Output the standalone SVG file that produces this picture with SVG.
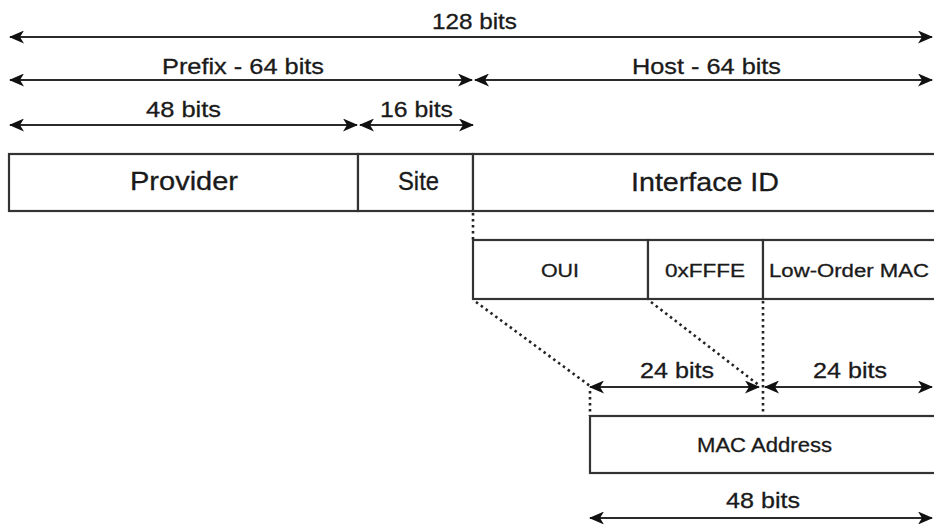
<svg xmlns="http://www.w3.org/2000/svg" width="934" height="524" viewBox="0 0 934 524">
<defs>
<style>
text{font-family:"Liberation Sans",Arial,sans-serif;fill:#1a1a1a;stroke:#1a1a1a;stroke-width:0.3;text-anchor:start}
.big{font-size:22px}
.lg{font-size:25px}
.sm{font-size:18px}
.md{font-size:20px}
.box{fill:#fff;stroke:#333;stroke-width:2.2}
.arr{stroke:#2a2a2a;stroke-width:2.2;fill:none;marker-start:url(#ah);marker-end:url(#ah)}
.dot{stroke:#222;stroke-width:2.6;stroke-dasharray:2.5 3.5;fill:none}
</style>
<marker id="ah" viewBox="0 0 15 13" refX="14" refY="6.5" markerWidth="15" markerHeight="13" markerUnits="userSpaceOnUse" orient="auto-start-reverse">
<path d="M0,0 L15,6.5 L0,13 L4,6.5 z" fill="#111"/>
</marker>
</defs>
<rect width="934" height="524" fill="#fff"/>
<g id="connectors">
<line class="arr" x1="10" y1="37" x2="932" y2="37"/>
<line class="arr" x1="10" y1="80" x2="472" y2="80"/>
<line class="arr" x1="475" y1="80" x2="932" y2="80"/>
<line class="arr" x1="10" y1="125" x2="357" y2="125"/>
<line class="arr" x1="360" y1="125" x2="473" y2="125"/>
<line class="dot" x1="473" y1="213" x2="473" y2="240"/>
<line class="dot" x1="476" y1="302" x2="590" y2="386"/>
<line class="dot" x1="651" y1="302" x2="760" y2="386"/>
<line class="dot" x1="763" y1="301" x2="763" y2="416"/>
<line class="dot" x1="590" y1="391" x2="590" y2="416"/>
<line class="arr" x1="590" y1="387" x2="759" y2="387"/>
<line class="arr" x1="765" y1="387" x2="932" y2="387"/>
<line class="arr" x1="590" y1="518" x2="932" y2="518"/>
</g>
<g id="labels">
<text class="big" x="432" y="29" textLength="85" lengthAdjust="spacingAndGlyphs">128 bits</text>
<text class="big" x="162" y="74" textLength="162" lengthAdjust="spacingAndGlyphs">Prefix - 64 bits</text>
<text class="big" x="632" y="74" textLength="149" lengthAdjust="spacingAndGlyphs">Host - 64 bits</text>
<text class="big" x="146" y="117" textLength="75" lengthAdjust="spacingAndGlyphs">48 bits</text>
<text class="big" x="380" y="117" textLength="73" lengthAdjust="spacingAndGlyphs">16 bits</text>
<text class="big" x="640" y="378" textLength="74" lengthAdjust="spacingAndGlyphs">24 bits</text>
<text class="big" x="813" y="378" textLength="74" lengthAdjust="spacingAndGlyphs">24 bits</text>
<text class="big" x="726" y="508" textLength="74" lengthAdjust="spacingAndGlyphs">48 bits</text>
</g>
<g id="provider">
<rect class="box" x="9" y="154" width="349" height="57"/>
<text class="lg" x="130" y="190" textLength="108" lengthAdjust="spacingAndGlyphs">Provider</text>
</g>
<g id="site">
<rect class="box" x="358" y="154" width="115" height="57"/>
<text class="lg" x="398" y="190" textLength="41" lengthAdjust="spacingAndGlyphs">Site</text>
</g>
<g id="interface-id">
<rect class="box" x="473" y="154" width="480" height="57"/>
<text class="lg" x="631" y="191" textLength="148" lengthAdjust="spacingAndGlyphs">Interface ID</text>
</g>
<g id="oui">
<rect class="box" x="473" y="240" width="175" height="59"/>
<text class="sm" x="541" y="277" textLength="38" lengthAdjust="spacingAndGlyphs">OUI</text>
</g>
<g id="fffe">
<rect class="box" x="648" y="240" width="115" height="59"/>
<text class="sm" x="665" y="277" textLength="80" lengthAdjust="spacingAndGlyphs">0xFFFE</text>
</g>
<g id="low-order-mac">
<rect class="box" x="763" y="240" width="200" height="59"/>
<text class="sm" x="769" y="277" textLength="160" lengthAdjust="spacingAndGlyphs">Low-Order MAC</text>
</g>
<g id="mac-address">
<rect class="box" x="590" y="416" width="370" height="57"/>
<text class="md" x="697" y="452" textLength="135" lengthAdjust="spacingAndGlyphs">MAC Address</text>
</g>
</svg>
